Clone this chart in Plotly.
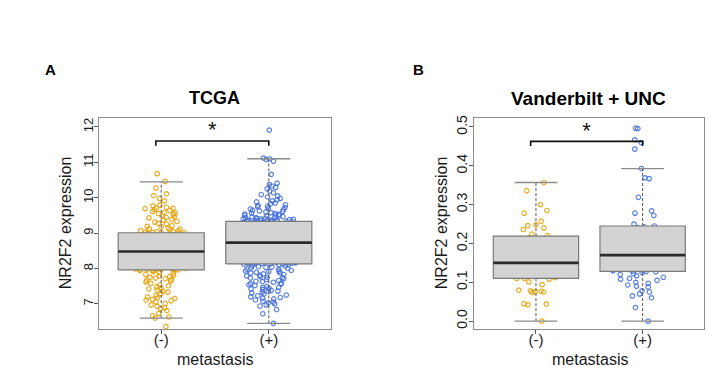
import plotly.graph_objects as go

# ---------------- data ----------------
groups = ["(-)", "(+)"]
group_pos = [1, 2]

# Panel A: TCGA
tcga_neg = [10.68, 10.46, 10.27, 10.11, 10.06, 9.98, 9.91, 9.79, 9.77, 9.73, 9.71, 9.70, 9.69, 9.66,
            9.64, 9.61, 9.58, 9.57, 9.55, 9.53, 9.49, 9.46, 9.44, 9.43, 9.39, 9.36, 9.33, 9.31, 9.27,
            9.26, 9.21, 9.19, 9.18, 9.14, 9.12, 9.11, 9.09, 9.07, 9.06, 9.05, 9.04, 9.03, 9.02, 9.02,
            9.01, 8.99, 8.98, 8.96, 8.94, 8.93, 8.92, 8.90, 8.89, 8.87, 8.86, 8.84, 8.83, 8.81, 8.80,
            8.79, 8.77, 8.75, 8.74, 8.72, 8.71, 8.69, 8.68, 8.67, 8.65, 8.64, 8.62, 8.60, 8.59, 8.58,
            8.57, 8.56, 8.55, 8.54, 8.53, 8.52, 8.52, 8.51, 8.50, 8.50, 8.49, 8.49, 8.49, 8.48, 8.48,
            8.48, 8.47, 8.47, 8.46, 8.45, 8.43, 8.41, 8.39, 8.37, 8.35, 8.33, 8.31, 8.29, 8.27, 8.25,
            8.22, 8.21, 8.19, 8.17, 8.16, 8.15, 8.14, 8.13, 8.12, 8.12, 8.11, 8.10, 8.10, 8.09, 8.08,
            8.07, 8.06, 8.05, 8.04, 8.03, 8.02, 8.01, 8.00, 7.99, 7.99, 7.98, 7.98, 7.97, 7.97, 7.96,
            7.96, 7.95, 7.94, 7.91, 7.88, 7.86, 7.83, 7.81, 7.79, 7.77, 7.75, 7.73, 7.71, 7.69, 7.67,
            7.65, 7.62, 7.58, 7.54, 7.51, 7.48, 7.45, 7.42, 7.39, 7.36, 7.33, 7.29, 7.24, 7.19, 7.17,
            7.15, 7.13, 7.11, 7.09, 7.06, 7.01, 6.97, 6.93, 6.89, 6.86, 6.81, 6.73, 6.66, 6.63, 6.60,
            6.36]
tcga_pos = [11.91, 11.12, 11.10, 11.08, 11.03, 10.66, 10.41, 10.37, 10.33, 10.29, 10.25, 10.19, 10.14,
            10.09, 10.05, 10.02, 9.98, 9.94, 9.91, 9.88, 9.85, 9.83, 9.80, 9.78, 9.76, 9.74, 9.72,
            9.70, 9.68, 9.66, 9.64, 9.63, 9.61, 9.60, 9.58, 9.57, 9.55, 9.54, 9.53, 9.51, 9.50, 9.49,
            9.48, 9.47, 9.46, 9.45, 9.44, 9.43, 9.42, 9.41, 9.40, 9.40, 9.39, 9.38, 9.38, 9.37, 9.36,
            9.36, 9.35, 9.35, 9.34, 9.34, 9.34, 9.33, 9.33, 9.33, 9.33,
            9.32, 9.31, 9.29, 9.29, 9.27, 9.26, 9.24, 9.23, 9.21, 9.20, 9.20, 9.18, 9.15, 9.14, 9.12,
            9.11, 9.08, 9.07, 9.06, 9.03, 9.02, 9.01, 8.99, 8.98, 8.97, 8.95, 8.94, 8.94, 8.92, 8.90,
            8.89, 8.88, 8.86, 8.86, 8.85, 8.83, 8.82, 8.81, 8.80, 8.80, 8.79, 8.78, 8.78, 8.77, 8.76,
            8.76, 8.75, 8.75, 8.74, 8.74, 8.74, 8.73, 8.73, 8.73, 8.73, 8.92, 9.05, 9.17, 8.87, 8.96,
            9.25, 8.84, 8.79,
            8.72, 8.71, 8.69, 8.69, 8.67, 8.66, 8.64, 8.63, 8.62, 8.60, 8.59, 8.58, 8.56, 8.55, 8.54,
            8.52, 8.51, 8.50, 8.48, 8.47, 8.46, 8.44, 8.43, 8.42, 8.41, 8.39, 8.38, 8.37, 8.35, 8.34,
            8.33, 8.31, 8.30, 8.29, 8.28, 8.27, 8.26, 8.24, 8.23, 8.22, 8.21, 8.20, 8.19, 8.19, 8.18,
            8.18, 8.17, 8.17, 8.16, 8.16, 8.15, 8.15, 8.14, 8.14, 8.13, 8.13, 8.61, 8.53, 8.45, 8.36,
            8.25, 8.57, 8.68, 8.40, 8.32, 8.49, 8.21,
            8.12, 8.11, 8.10, 8.08, 8.07, 8.05, 8.04, 8.02, 8.00, 7.98, 7.97, 7.95, 7.93, 7.91, 7.89,
            7.87, 7.85, 7.83, 7.81, 7.79, 7.77, 7.75, 7.73, 7.71, 7.69, 7.66, 7.63, 7.61, 7.58, 7.56,
            7.54, 7.52, 7.49, 7.46, 7.44, 7.42, 7.40, 7.38, 7.35, 7.33, 7.31, 7.28, 7.25, 7.23, 7.20,
            7.18, 7.16, 7.14, 7.11, 7.08, 7.05, 7.03, 7.00, 6.97, 6.94, 6.84, 6.72, 6.45, 7.74, 7.57,
            7.88, 7.47, 8.03, 7.92, 7.36, 7.64]

# box statistics: lower whisker, Q1, median, Q3, upper whisker
tcga_stats = {
    "lo": [6.60, 6.45],
    "q1": [7.96, 8.13],
    "med": [8.48, 8.73],
    "q3": [9.01, 9.33],
    "hi": [10.45, 11.10],
}

# Panel B: Vanderbilt + UNC
vu_neg = [0.357, 0.336, 0.300, 0.285, 0.278, 0.257, 0.248, 0.246, 0.240, 0.236, 0.224, 0.220, 0.215,
          0.212, 0.203, 0.187, 0.182, 0.182, 0.176, 0.175, 0.162, 0.158, 0.157, 0.156, 0.155, 0.153,
          0.151, 0.150, 0.149, 0.148, 0.147, 0.146, 0.145, 0.144, 0.140, 0.137, 0.137, 0.130, 0.128,
          0.123, 0.119, 0.112, 0.110, 0.110, 0.108, 0.101, 0.094, 0.080, 0.078, 0.077, 0.076, 0.075,
          0.074, 0.045, 0.044, 0.042, 0.000]
vu_pos = [0.497, 0.496, 0.467, 0.460, 0.443, 0.393, 0.369, 0.367, 0.319, 0.284, 0.278, 0.272, 0.250,
          0.245, 0.243, 0.241, 0.239, 0.236, 0.233, 0.230, 0.226, 0.222, 0.216, 0.213, 0.212, 0.210,
          0.207, 0.203, 0.199, 0.195, 0.193, 0.190, 0.186, 0.182, 0.180, 0.178, 0.176, 0.172, 0.168,
          0.165, 0.160, 0.156, 0.152, 0.150, 0.148, 0.146, 0.145, 0.144, 0.142, 0.141, 0.140, 0.139,
          0.138, 0.137, 0.136, 0.135, 0.134, 0.133, 0.132, 0.131, 0.130, 0.129, 0.128, 0.127, 0.125,
          0.122, 0.120, 0.117, 0.113, 0.110, 0.108, 0.105, 0.100, 0.097, 0.093, 0.090, 0.088, 0.078,
          0.075, 0.070, 0.065, 0.060, 0.035, 0.000]
vu_stats = {
    "lo": [0.000, 0.000],
    "q1": [0.110, 0.128],
    "med": [0.150, 0.170],
    "q3": [0.219, 0.245],
    "hi": [0.357, 0.393],
}

# significance brackets: [left x, right x], bar height, drop, star height
tcga_sig = {"x": [0.95, 2.0], "y": 11.60, "drop": 11.47, "star": 11.86}
vu_sig = {"x": [0.95, 2.0], "y": 0.463, "drop": 0.451, "star": 0.486}

y_ranges = [[6.28, 12.25], [-0.0212, 0.523]]
y_ticks = [[7, 8, 9, 10, 11, 12], [0.0, 0.1, 0.2, 0.3, 0.4, 0.5]]
y_ticktext = [["7", "8", "9", "10", "11", "12"], ["0.0", "0.1", "0.2", "0.3", "0.4", "0.5"]]
titles = ["TCGA", "Vanderbilt + UNC"]
panel_letters = ["A", "B"]

# ---------------- styles ----------------
W, H = 709, 374
COL = ["#E69F00", "#3E6BDA"]
BOX_W = 0.8
CAP_W = 0.4
FONT = "Liberation Sans, Arial, sans-serif"
TXT = "#1a1a1a"

fig = go.Figure()

panels = [
    dict(pts=[tcga_neg, tcga_pos], st=tcga_stats, sig=tcga_sig, xa="x", ya="y", jit=0.62),
    dict(pts=[vu_neg, vu_pos], st=vu_stats, sig=vu_sig, xa="x2", ya="y2", jit=0.95),
]

for p in panels:
    st = p["st"]
    for i, pos in enumerate(group_pos):
        l, r = pos - BOX_W / 2, pos + BOX_W / 2
        fig.add_trace(go.Scatter(
            x=[pos, pos, None, pos, pos], y=[st["lo"][i], st["q1"][i], None, st["q3"][i], st["hi"][i]],
            mode="lines", line=dict(color="#555555", width=1, dash="3px,2px"),
            xaxis=p["xa"], yaxis=p["ya"], showlegend=False, hoverinfo="skip"))
        fig.add_trace(go.Scatter(
            x=[pos - CAP_W / 2, pos + CAP_W / 2, None, pos - CAP_W / 2, pos + CAP_W / 2],
            y=[st["lo"][i], st["lo"][i], None, st["hi"][i], st["hi"][i]],
            mode="lines", line=dict(color="#8a8a8a", width=1.3),
            xaxis=p["xa"], yaxis=p["ya"], showlegend=False, hoverinfo="skip"))
        fig.add_trace(go.Scatter(
            x=[l, r, r, l, l], y=[st["q1"][i], st["q1"][i], st["q3"][i], st["q3"][i], st["q1"][i]],
            mode="lines", fill="toself", fillcolor="#D3D3D3", line=dict(color="#7a7a7a", width=1.2),
            xaxis=p["xa"], yaxis=p["ya"], showlegend=False, hoverinfo="skip"))
        fig.add_trace(go.Scatter(
            x=[l, r], y=[st["med"][i], st["med"][i]], mode="lines",
            line=dict(color="#2b2b2b", width=2.6),
            xaxis=p["xa"], yaxis=p["ya"], showlegend=False, hoverinfo="skip"))
    for i, pos in enumerate(group_pos):
        vals = p["pts"][i]
        fig.add_trace(go.Box(
            x=[pos] * len(vals), y=vals, boxpoints="all", jitter=p["jit"], pointpos=0, width=BOX_W,
            fillcolor="rgba(0,0,0,0)", line=dict(width=0, color="rgba(0,0,0,0)"),
            marker=dict(symbol="circle-open", size=4.5, color=COL[i], opacity=0.85,
                        line=dict(width=1.2, color=COL[i])),
            xaxis=p["xa"], yaxis=p["ya"], showlegend=False, hoverinfo="y"))
    sg = p["sig"]
    fig.add_trace(go.Scatter(
        x=[sg["x"][0], sg["x"][0], sg["x"][1], sg["x"][1]],
        y=[sg["drop"], sg["y"], sg["y"], sg["drop"]],
        mode="lines", line=dict(color="#111111", width=1.6),
        xaxis=p["xa"], yaxis=p["ya"], showlegend=False, hoverinfo="skip"))
    fig.add_trace(go.Scatter(
        x=[(sg["x"][0] + sg["x"][1]) / 2], y=[sg["star"]], mode="text", text=["*"],
        textfont=dict(size=22, color="#111111", family=FONT), textposition="middle center",
        xaxis=p["xa"], yaxis=p["ya"], showlegend=False, hoverinfo="skip"))

areas = [(99, 331), (474.3, 704.3)]
top_px, bot_px = 116, 329
ydom = [1 - bot_px / H, 1 - top_px / H]

axis_common = dict(showline=True, mirror=True, linecolor="#8c8c8c", linewidth=1,
                   showgrid=False, zeroline=False, ticks="outside",
                   tickcolor="#555555")

ytick_sz = [13, 14]
ystand = [-4, -3]

layout = dict(width=W, height=H, margin=dict(l=0, r=0, t=0, b=0),
              paper_bgcolor="white", plot_bgcolor="white", showlegend=False,
              font=dict(family=FONT, color=TXT))
for k, (x0, x1) in enumerate(areas):
    sfx = "" if k == 0 else str(k + 1)
    layout["xaxis" + sfx] = dict(axis_common, domain=[x0 / W, x1 / W], range=[0.422, 2.578],
                                 tickvals=group_pos, ticktext=groups, ticklen=4,
                                 tickfont=dict(size=15, color=TXT, family=FONT),
                                 anchor="y" + sfx, ticklabelstandoff=-7)
    layout["yaxis" + sfx] = dict(axis_common, domain=ydom, range=y_ranges[k], tickvals=y_ticks[k],
                                 ticktext=y_ticktext[k], tickangle=-90, anchor="x" + sfx, ticklen=4,
                                 tickfont=dict(size=ytick_sz[k], color=TXT, family=FONT),
                                 ticklabelstandoff=ystand[k])
fig.update_layout(**layout)

ann = []
title_x = [215, 588]
title_sz = [18, 19]
ytitle_x = [65, 441]
letter_x = [50.5, 418]
xlab_x = [215, 590]
for k, (x0, x1) in enumerate(areas):
    ann.append(dict(text="<b>%s</b>" % titles[k], x=title_x[k] / W, y=1 - 96 / H, xref="paper", yref="paper",
                    showarrow=False, font=dict(size=title_sz[k], color="#000000", family=FONT),
                    xanchor="center", yanchor="middle"))
    ann.append(dict(text="<b>%s</b>" % panel_letters[k], x=letter_x[k] / W, y=1 - 67 / H, xref="paper",
                    yref="paper", showarrow=False, font=dict(size=15, color="#000000", family=FONT),
                    xanchor="center", yanchor="middle"))
    ann.append(dict(text="NR2F2 expression", x=ytitle_x[k] / W, y=1 - 222 / H, xref="paper", yref="paper",
                    showarrow=False, textangle=-90, font=dict(size=16, color=TXT, family=FONT),
                    xanchor="center", yanchor="middle"))
    ann.append(dict(text="metastasis", x=xlab_x[k] / W, y=1 - 359 / H, xref="paper",
                    yref="paper", showarrow=False, font=dict(size=16, color=TXT, family=FONT),
                    xanchor="center", yanchor="middle"))
fig.update_layout(annotations=ann)

fig.write_html("out.html")
